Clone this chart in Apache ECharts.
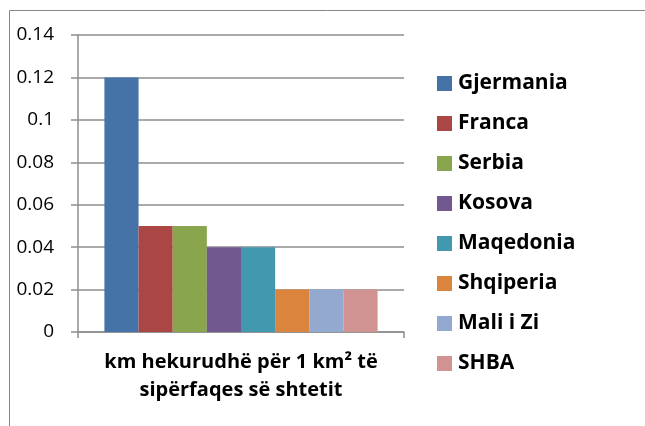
<!DOCTYPE html>
<html>
<head>
<meta charset="utf-8">
<script src="https://cdn.jsdelivr.net/npm/echarts@6/dist/echarts.min.js"></script>
<style>
  html, body { margin: 0; padding: 0; background: #fff; }
  #chart { width: 645px; height: 426px; }
</style>
</head>
<body>
<div id="chart"></div>
<script>
// Railway density: km of railway per 1 km² of national territory
const category = ['km hekurudhë për 1 km² të\nsipërfaqes së shtetit'];
const countries = ['Gjermania', 'Franca', 'Serbia', 'Kosova', 'Maqedonia', 'Shqiperia', 'Mali i Zi', 'SHBA'];
const values = [0.12, 0.05, 0.05, 0.04, 0.04, 0.02, 0.02, 0.02];
const colors = ['#4572A7', '#AA4643', '#89A54E', '#71588F', '#4198AF', '#DB843D', '#93A9CF', '#D19392'];

const FONT = 'Open Sans';
const GRID_GREY = '#8e8e8e';

const chart = echarts.init(document.getElementById('chart'), null, { renderer: 'canvas' });

const series = countries.map((name, i) => ({
  name: name,
  type: 'bar',
  data: [values[i]],
  barGap: '0%',
  barCategoryGap: '16.2%',
  itemStyle: { color: colors[i] },
  animation: false
}));

chart.setOption({
  animation: false,
  backgroundColor: '#fff',
  // chart-area frame: top and left edges
  graphic: [
    {
      type: 'line',
      shape: { x1: 9.5, y1: 10.5, x2: 700, y2: 10.5 },
      style: { stroke: '#868686', lineWidth: 1 },
      silent: true
    },
    {
      type: 'line',
      shape: { x1: 9.5, y1: 10.5, x2: 9.5, y2: 500 },
      style: { stroke: '#868686', lineWidth: 1 },
      silent: true
    }
  ],
  grid: { left: 78, right: 241, top: 35, bottom: 94, containLabel: false },
  legend: {
    orient: 'vertical',
    left: 437,
    top: 72,
    padding: 0,
    itemWidth: 15,
    itemHeight: 15,
    itemGap: 17,
    icon: 'rect',
    textStyle: { fontFamily: FONT, fontWeight: 'bold', fontSize: 21, color: '#000', padding: [0, 0, 0, 1], lineHeight: 23 },
    data: countries
  },
  xAxis: {
    type: 'category',
    data: category,
    axisLine: { lineStyle: { color: GRID_GREY, width: 1.5 } },
    axisTick: { show: true, length: 6, lineStyle: { color: GRID_GREY, width: 1.5 } },
    axisLabel: {
      fontFamily: FONT, fontWeight: 'bold', fontSize: 20, color: '#000',
      lineHeight: 28, margin: 16
    }
  },
  yAxis: {
    type: 'value',
    min: 0,
    max: 0.14,
    interval: 0.02,
    axisLine: { show: true, lineStyle: { color: GRID_GREY, width: 1.5 } },
    axisTick: { show: true, length: 7, lineStyle: { color: GRID_GREY, width: 1.5 } },
    splitLine: { lineStyle: { color: GRID_GREY, width: 1.5 } },
    axisLabel: {
      fontFamily: FONT, fontSize: 19, color: '#000', margin: 24,
      formatter: v => String(+v.toFixed(2))
    }
  },
  series: series
});
</script>
</body>
</html>
